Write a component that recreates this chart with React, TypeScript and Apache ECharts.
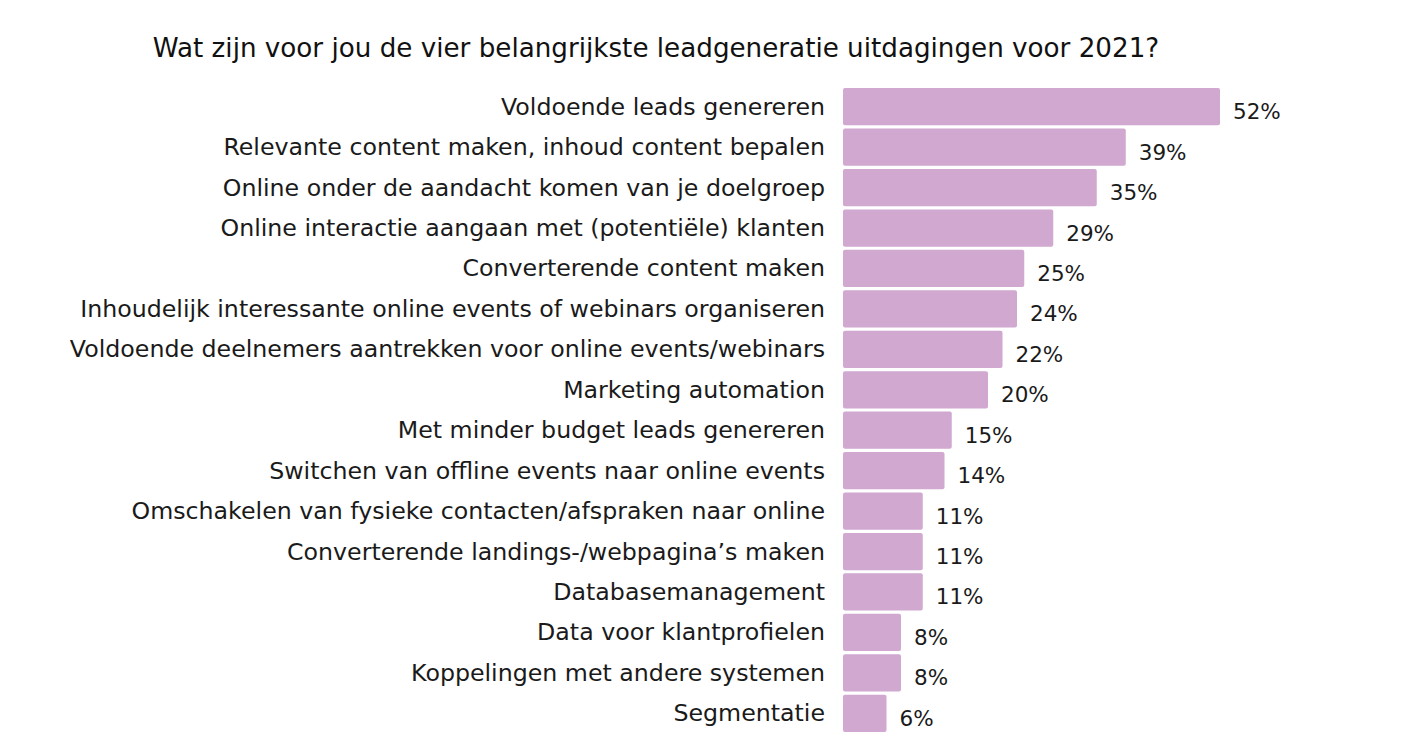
import React, { useEffect, useRef } from "react";
import * as echarts from "echarts";

const title = "Wat zijn voor jou de vier belangrijkste leadgeneratie uitdagingen voor 2021?";

const categories = [
  "Voldoende leads genereren",
  "Relevante content maken, inhoud content bepalen",
  "Online onder de aandacht komen van je doelgroep",
  "Online interactie aangaan met (potentiële) klanten",
  "Converterende content maken",
  "Inhoudelijk interessante online events of webinars organiseren",
  "Voldoende deelnemers aantrekken voor online events/webinars",
  "Marketing automation",
  "Met minder budget leads genereren",
  "Switchen van offline events naar online events",
  "Omschakelen van fysieke contacten/afspraken naar online",
  "Converterende landings-/webpagina’s maken",
  "Databasemanagement",
  "Data voor klantprofielen",
  "Koppelingen met andere systemen",
  "Segmentatie",
];

const values = [52, 39, 35, 29, 25, 24, 22, 20, 15, 14, 11, 11, 11, 8, 8, 6];

const FONT = "'DejaVu Sans', 'Open Sans', sans-serif";

export default function App() {
  const ref = useRef<HTMLDivElement>(null);
  useEffect(() => {
    if (!ref.current) return;
    const chart = echarts.init(ref.current, undefined, { renderer: "svg" });
    chart.setOption({
      animation: false,
      backgroundColor: "#ffffff",
      title: {
        text: title,
        left: 643,
        textAlign: "center",
        top: 22,
        textStyle: {
          fontFamily: FONT,
          fontSize: 26.2,
          fontWeight: "normal",
          color: "#111111",
        },
      },
      grid: {
        left: 835,
        top: 78.5,
        bottom: 18.5,
        width: 507.5,
        containLabel: false,
      },
      xAxis: {
        type: "value",
        min: 0,
        max: 70,
        show: false,
      },
      yAxis: {
        type: "category",
        data: categories,
        inverse: true,
        axisLine: { show: false },
        axisTick: { show: false },
        axisLabel: {
          margin: 18,
          fontFamily: FONT,
          fontSize: 23.7,
          fontWeight: "normal",
          color: "#1a1a1a",
        },
      },
      series: [
        {
          type: "bar",
          data: values,
          barCategoryGap: "8%",
          itemStyle: { color: "#D0A8D0", borderRadius: 2 },
          label: {
            show: true,
            position: "right",
            distance: 13,
            offset: [0, 5],
            formatter: "{c}%",
            fontFamily: FONT,
            fontSize: 21.5,
            fontWeight: "normal",
            color: "#1a1a1a",
          },
        },
      ],
    });
    return () => chart.dispose();
  }, []);
  return <div ref={ref} style={{ width: 1406, height: 744 }} />;
}
